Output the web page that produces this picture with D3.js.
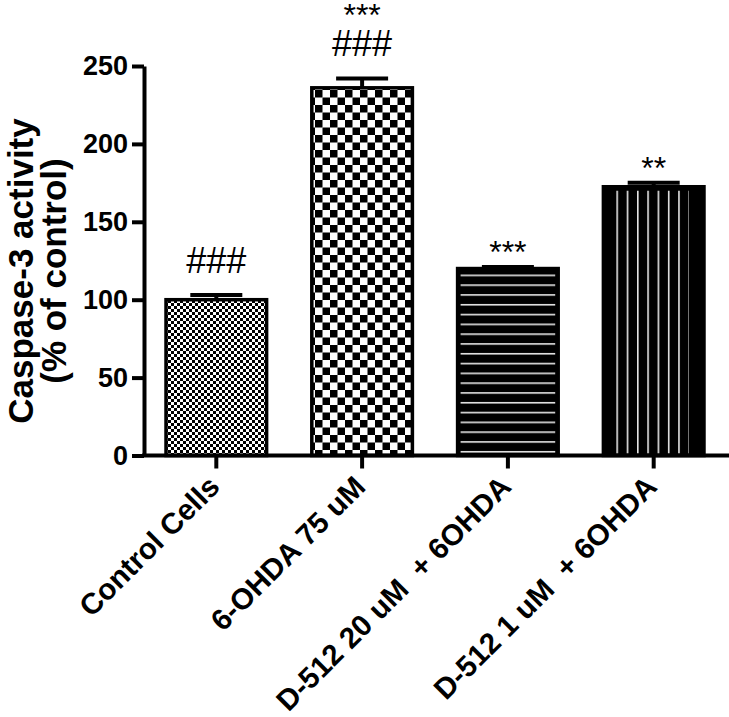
<!DOCTYPE html>
<html>
<head>
<meta charset="utf-8">
<script src="https://cdn.jsdelivr.net/npm/d3@7"></script>
<style>
  body { margin: 0; background: #fff; }
  text { font-family: "Liberation Sans", Arial, sans-serif; }
</style>
</head>
<body>
<svg width="729" height="717"></svg>
<script>
// values
const categories = ["Control Cells", "6-OHDA 75 uM", "D-512 20 uM  + 6OHDA", "D-512 1 uM  + 6OHDA"]
const means  = [100, 236, 120, 172.5]
const errors = [3, 6, 1, 2.5]
const stars  = ["", "***", "***", "**"]
const hashes = ["###", "###", "", ""]
const yTicks = [0, 50, 100, 150, 200, 250]
const fills  = ["url(#fineCheck)", "url(#bigCheck)", "#000", "#000"]

const width = 729
const height = 717
const mLeft = 144, mBottom = 455.5, mTop = 66, mRight = 726

const svg = d3.select("svg")
const defs = svg.append("defs")

// fine checkerboard
let p = defs.append("pattern").attr("id", "fineCheck")
  .attr("patternUnits", "userSpaceOnUse").attr("width", 6).attr("height", 6)
p.append("rect").attr("width", 6).attr("height", 6).attr("fill", "#fff")
p.append("rect").attr("width", 3).attr("height", 3).attr("fill", "#000")
p.append("rect").attr("x", 3).attr("y", 3).attr("width", 3).attr("height", 3).attr("fill", "#000")

// coarse checkerboard
p = defs.append("pattern").attr("id", "bigCheck")
  .attr("patternUnits", "userSpaceOnUse").attr("width", 15).attr("height", 15)
p.append("rect").attr("width", 15).attr("height", 15).attr("fill", "#fff")
p.append("rect").attr("width", 7.5).attr("height", 7.5).attr("fill", "#000")
p.append("rect").attr("x", 7.5).attr("y", 7.5).attr("width", 7.5).attr("height", 7.5).attr("fill", "#000")

// horizontal stripes
p = defs.append("pattern").attr("id", "hStripe")
  .attr("patternUnits", "userSpaceOnUse").attr("width", 10).attr("height", 9.8)
p.append("rect").attr("width", 10).attr("height", 9.8).attr("fill", "#000")
p.append("rect").attr("y", 0).attr("width", 10).attr("height", 1.6).attr("fill", "#e6e6e6")

// vertical stripes
p = defs.append("pattern").attr("id", "vStripe")
  .attr("patternUnits", "userSpaceOnUse").attr("width", 10.3).attr("height", 10)
p.append("rect").attr("width", 10.3).attr("height", 10).attr("fill", "#000")
p.append("rect").attr("x", 0).attr("width", 1.6).attr("height", 10).attr("fill", "#e6e6e6")

const x = d3.scaleBand().domain(categories).range([mLeft, mRight])
  .paddingInner(0.31).paddingOuter(0.151)
const y = d3.scaleLinear().domain([0, 250]).range([mBottom, mTop])

const bw = x.bandwidth()

// bars
svg.selectAll("rect.bar")
  .data(categories)
  .enter()
  .append("rect")
  .attr("class", "bar")
  .attr("x", d => x(d))
  .attr("y", (d, i) => y(means[i]))
  .attr("width", bw)
  .attr("height", (d, i) => y(0) - y(means[i]))
  .attr("fill", (d, i) => fills[i])
  .attr("stroke", "#000")
  .attr("stroke-width", 3.5)

// stripe overlays for the two dark bars
const b3 = categories[2], b4 = categories[3]
defs.select("#hStripe").attr("y", y(means[2]) + 6)
svg.append("rect")
  .attr("x", x(b3) + 3).attr("y", y(means[2]) + 4)
  .attr("width", bw - 6).attr("height", y(0) - y(means[2]) - 6)
  .attr("fill", "url(#hStripe)")

defs.select("#vStripe").attr("x", x(b4) + 13)
svg.append("rect")
  .attr("x", x(b4) + 11).attr("y", y(means[3]) + 4)
  .attr("width", bw - 26).attr("height", y(0) - y(means[3]) - 6)
  .attr("fill", "url(#vStripe)")

// error bars
const eb = svg.append("g").attr("stroke", "#000").attr("stroke-width", 4)
categories.forEach((c, i) => {
  let cx = x(c) + bw / 2
  eb.append("line").attr("x1", cx).attr("x2", cx)
    .attr("y1", y(means[i])).attr("y2", y(means[i] + errors[i]))
  eb.append("line").attr("x1", cx - 26).attr("x2", cx + 26)
    .attr("y1", y(means[i] + errors[i])).attr("y2", y(means[i] + errors[i]))
})

// significance marks
categories.forEach((c, i) => {
  let cx = x(c) + bw / 2
  let base = y(means[i] + errors[i])
  if (hashes[i]) {
    base -= 22
    svg.append("text").attr("x", cx).attr("y", base)
      .attr("text-anchor", "middle").attr("font-size", 36)
      .text(hashes[i])
    base -= 26
  }
  if (stars[i]) {
    svg.append("text").attr("x", cx).attr("y", base - 4)
      .attr("text-anchor", "middle").attr("font-size", 32)
      .text(stars[i])
  }
})

// axes
const yAxis = svg.append("g")
  .attr("transform", `translate(${mLeft},0)`)
  .call(d3.axisLeft(y).tickValues(yTicks).tickSize(12).tickSizeOuter(0).tickPadding(4))
yAxis.selectAll("path, line").attr("stroke", "#000").attr("stroke-width", 4)
yAxis.selectAll("text").attr("font-size", 27).attr("font-weight", "bold")
  .attr("fill", "#000").attr("font-family", "Liberation Sans, Arial, sans-serif")

const xAxis = svg.append("g")
  .attr("transform", `translate(0,${mBottom})`)
  .call(d3.axisBottom(x).tickSize(13).tickSizeOuter(0).tickFormat(""))
xAxis.selectAll("path, line").attr("stroke", "#000").attr("stroke-width", 4)
xAxis.select("path").attr("d", `M${mLeft - 2},0H${width}`)

// rotated category labels
svg.selectAll("text.cat")
  .data(categories)
  .enter()
  .append("text")
  .attr("class", "cat")
  .attr("transform", d => `translate(${x(d) + bw / 2 + 5},${mBottom + 33}) rotate(-45)`)
  .attr("text-anchor", "end")
  .attr("font-size", 29.5)
  .attr("font-weight", "bold")
  .style("white-space", "pre")
  .text(d => d)

// y title
const yt = svg.append("text")
  .attr("transform", `translate(0,271) rotate(-90)`)
  .attr("text-anchor", "middle")
  .attr("font-size", 35)
  .attr("font-weight", "bold")
yt.append("tspan").attr("x", 0).attr("y", 33).text("Caspase-3 activity")
yt.append("tspan").attr("x", 0).attr("y", 66).text("(% of control)")
</script>
</body>
</html>
